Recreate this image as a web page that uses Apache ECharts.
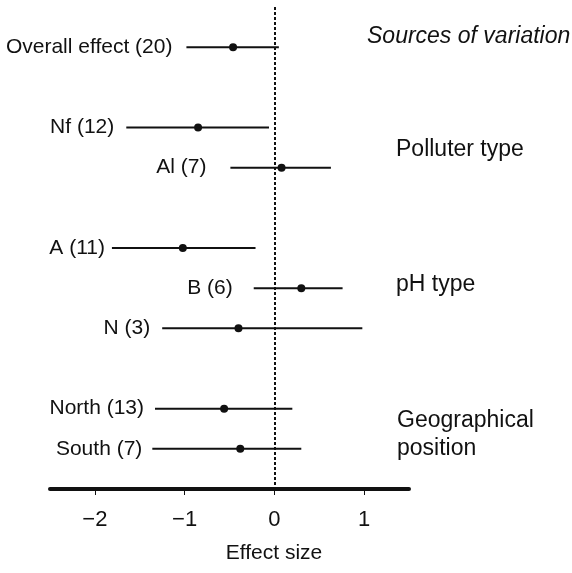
<!DOCTYPE html>
<html>
<head>
<meta charset="utf-8">
<script src="https://cdn.jsdelivr.net/npm/echarts@6/dist/echarts.min.js"></script>
<style>
  html, body { margin: 0; padding: 0; background: #fff; }
  #chart { width: 572px; height: 573px; }
</style>
</head>
<body>
<div id="chart"></div>
<script>
// rows of the forest plot, top to bottom ('' = empty spacer row)
var rows = ['', 'Overall effect (20)', '', 'Nf (12)', 'Al (7)', '', 'A (11)', 'B (6)', 'N (3)', '', 'North (13)', 'South (7)', ''];
// effect size estimates and confidence limits (same order as the labelled rows)
var labels   = ['Overall effect (20)', 'Nf (12)', 'Al (7)', 'A (11)', 'B (6)', 'N (3)', 'North (13)', 'South (7)'];
var estimate = [-0.46, -0.85, 0.08, -1.02, 0.30, -0.40, -0.56, -0.38];
var lower    = [-0.98, -1.65, -0.49, -1.81, -0.23, -1.25, -1.33, -1.36];
var upper    = [0.05, -0.06, 0.63, -0.21, 0.76, 0.98, 0.20, 0.30];
var xTicks   = [-2, -1, 0, 1];

// gap (px) between the row label and its CI line
var labelGap = [14, 12, 24, 7, 21, 12, 11, 10];

var FONT = 'Liberation Sans, Arial, Helvetica, sans-serif';
var INK = '#111';

var chart = echarts.init(document.getElementById('chart'));

var ciData = labels.map(function (name, i) {
    return [rows.indexOf(name), lower[i], upper[i], estimate[i], i];
});

chart.setOption({
    animation: false,
    grid: {
        left: 50,
        right: 163,
        top: 7,
        bottom: 84
    },
    xAxis: {
        type: 'value',
        min: -2.5,
        max: 1.5,
        splitLine: { show: false },
        axisLine: {
            show: true,
            onZero: false,
            lineStyle: { color: INK, width: 4 }
        },
        axisTick: {
            show: true,
            customValues: xTicks,
            length: 6,
            lineStyle: { color: INK, width: 1 }
        },
        axisLabel: {
            customValues: xTicks,
            margin: 20,
            fontFamily: FONT,
            fontSize: 22,
            color: INK,
            formatter: function (v) {
                return v < 0 ? '\u2212' + Math.abs(v) : String(v);
            }
        }
    },
    yAxis: {
        type: 'category',
        data: rows,
        inverse: true,
        boundaryGap: false,
        axisLine: { show: false },
        axisTick: { show: false },
        axisLabel: { show: false },
        splitLine: { show: false }
    },
    graphic: [
        { type: 'text', x: 274, y: 553, style: { text: 'Effect size', align: 'center', verticalAlign: 'middle', fontFamily: FONT, fontSize: 21, fill: INK } },
        { type: 'text', x: 367, y: 37, style: { text: 'Sources of variation', verticalAlign: 'middle', fontFamily: FONT, fontSize: 23, fontStyle: 'italic', fill: INK } },
        { type: 'text', x: 396, y: 150, style: { text: 'Polluter type', verticalAlign: 'middle', fontFamily: FONT, fontSize: 23, fill: INK } },
        { type: 'text', x: 396, y: 285, style: { text: 'pH type', verticalAlign: 'middle', fontFamily: FONT, fontSize: 23, fill: INK } },
        { type: 'text', x: 397, y: 435, style: { text: 'Geographical\nposition', lineHeight: 28, verticalAlign: 'middle', fontFamily: FONT, fontSize: 23, fill: INK } }
    ],
    series: [{
        type: 'custom',
        clip: false,
        data: ciData,
        encode: { x: [1, 2, 3], y: 0 },
        renderItem: function (params, api) {
            var row = api.value(0);
            var p0 = api.coord([api.value(1), row]);
            var p1 = api.coord([api.value(2), row]);
            var pe = api.coord([api.value(3), row]);
            var i = api.value(4);
            return {
                type: 'group',
                children: [{
                    type: 'line',
                    shape: { x1: p0[0], y1: p0[1], x2: p1[0], y2: p1[1] },
                    style: { stroke: INK, lineWidth: 2 }
                }, {
                    type: 'circle',
                    shape: { cx: pe[0], cy: pe[1], r: 4 },
                    style: { fill: INK }
                }, {
                    type: 'text',
                    x: p0[0] - labelGap[i],
                    y: p0[1],
                    style: {
                        text: labels[i],
                        align: 'right',
                        verticalAlign: 'middle',
                        fontFamily: FONT,
                        fontSize: 21,
                        fill: INK
                    }
                }]
            };
        },
        markLine: {
            silent: true,
            symbol: 'none',
            label: { show: false },
            lineStyle: { color: INK, width: 2, type: [3, 2] },
            data: [{ xAxis: 0 }]
        }
    }]
});
</script>
</body>
</html>
